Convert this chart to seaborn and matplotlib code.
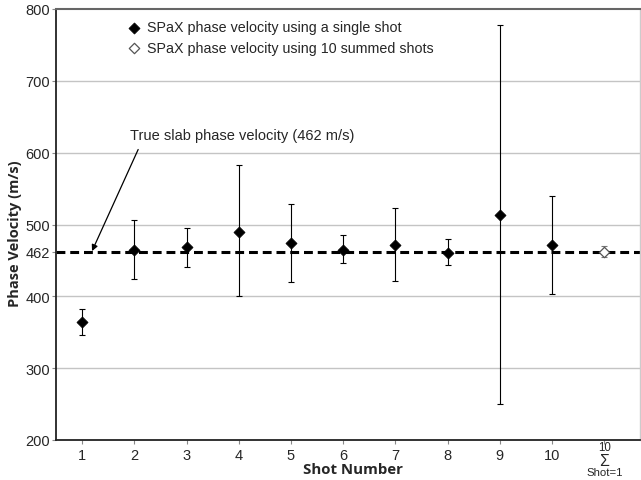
import matplotlib
matplotlib.use("Agg")
import matplotlib.pyplot as plt
import seaborn as sns
import pandas as pd
import numpy as np

shots = [1, 2, 3, 4, 5, 6, 7, 8, 9, 10]
velocity = [364, 464, 468, 490, 474, 465, 472, 461, 513, 471]
upper = [382, 506, 495, 583, 529, 486, 523, 480, 778, 539]
lower = [346, 424, 441, 400, 420, 446, 422, 444, 250, 403]

sum_pos = [11]
sum_velocity = [462]
sum_upper = [470]
sum_lower = [455]

true_velocity = 462
xtick_labels = ["1", "2", "3", "4", "5", "6", "7", "8", "9", "10", ""]
yticks = [200, 300, 400, 462, 500, 600, 700, 800]

sns.set_style("white")
plt.rcParams['font.family'] = ['Liberation Sans', 'DejaVu Sans']

fig = plt.figure(figsize=(6.41, 4.81), dpi=100)
ax = fig.add_axes([56/641, 1 - 441/481, 1 - 56/641 - 0.001, (441 - 10)/481])

df = pd.DataFrame({"shot": shots, "v": velocity})
dfs = pd.DataFrame({"shot": sum_pos, "v": sum_velocity})

for g in [300, 400, 500, 600, 700]:
    ax.axhline(g, color="#c4c4c4", lw=1.0, zorder=0)

ax.axhline(true_velocity, color="black", lw=2.2, ls=(0, (2.9, 1.6)), zorder=2)

yerr = [np.array(velocity) - np.array(lower), np.array(upper) - np.array(velocity)]
ax.errorbar(shots, velocity, yerr=yerr, fmt="none", ecolor="black", elinewidth=0.8,
            capsize=2.3, capthick=0.8, zorder=3)
yerr_s = [np.array(sum_velocity) - np.array(sum_lower), np.array(sum_upper) - np.array(sum_velocity)]
ax.errorbar(sum_pos, sum_velocity, yerr=yerr_s, fmt="none", ecolor="#777777", elinewidth=0.8,
            capsize=2.0, capthick=0.8, zorder=3)

sns.scatterplot(data=df, x="shot", y="v", marker="D", s=32, color="black",
                edgecolor="black", linewidth=0.5, ax=ax, zorder=4,
                label="SPaX phase velocity using a single shot")
sns.scatterplot(data=dfs, x="shot", y="v", marker="D", s=28, color="white",
                edgecolor="#555555", linewidth=0.9, ax=ax, zorder=4,
                label="SPaX phase velocity using 10 summed shots")

ax.set_xlim(0.5, 11.69)
ax.set_ylim(200, 800)
ax.set_yticks(yticks)
ax.set_xticks(list(range(1, 12)))
ax.set_xticklabels(xtick_labels)
ax.tick_params(axis="both", labelsize=10.5, length=3, color="#888888", direction="out",
               left=True, bottom=True, pad=1.5)
ax.tick_params(axis="x", pad=3)

# summation tick label
ax.annotate("10", xy=(11, 200), xycoords="data", xytext=(0, -5.3), textcoords="offset points",
            ha="center", va="center", fontsize=8.3, annotation_clip=False)
ax.annotate("Σ", xy=(11, 200), xycoords="data", xytext=(0, -14.6), textcoords="offset points",
            ha="center", va="center", fontsize=11.5, annotation_clip=False)
ax.annotate("Shot=1", xy=(11, 200), xycoords="data", xytext=(0, -23.4), textcoords="offset points",
            ha="center", va="center", fontsize=8.2, annotation_clip=False)

ax.set_xlabel("Shot Number", fontsize=10.8, fontweight="bold", family="Open Sans")
ax.set_ylabel("Phase Velocity (m/s)", fontsize=10.5, fontweight="bold", family="Open Sans")
ax.xaxis.set_label_coords(0.508, -(470 - 441) / 431, transform=ax.transAxes)
ax.yaxis.set_label_coords(-(56 - 15) / 585, (441 - 234) / 431, transform=ax.transAxes)
ax.xaxis.label.set_va("center")
ax.yaxis.label.set_va("center")

for side in ["left", "bottom"]:
    ax.spines[side].set_color("#222222")
    ax.spines[side].set_linewidth(1.3)
ax.spines["top"].set_color("#666666")
ax.spines["top"].set_linewidth(1.5)
ax.spines["right"].set_color("#cccccc")
ax.spines["right"].set_linewidth(1.0)

ax.annotate("True slab phase velocity (462 m/s)", xy=(1.19, 463), xytext=(1.92, 624),
            fontsize=10.5, ha="left", va="center",
            arrowprops=dict(arrowstyle="-|>", color="black", lw=0.9, relpos=(0.05, 0.0),
                            mutation_scale=9, shrinkA=3, shrinkB=0))

leg = ax.legend(loc="upper left", bbox_to_anchor=(0.095, 1.0), frameon=False, fontsize=10.3,
                handletextpad=0.1, handlelength=1.6, labelspacing=0.45, borderaxespad=0.4)

fig.savefig("out.png", dpi=100)
